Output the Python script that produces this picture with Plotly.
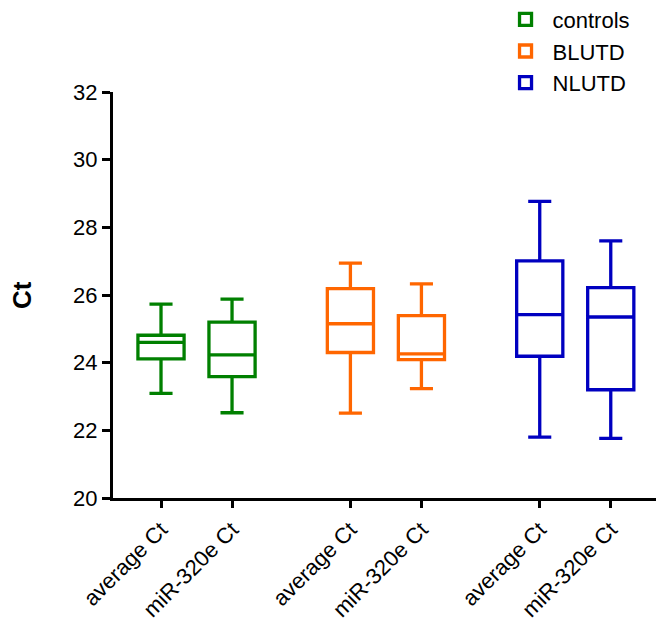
import plotly.graph_objects as go

groups = ["controls", "BLUTD", "NLUTD"]
colors = ["#008000", "#FF6600", "#0000C0"]
tick_labels = ["average Ct", "miR-320e Ct"]
positions = [[0, 1], [2.667, 3.667], [5.333, 6.333]]

lower_whisker = [[23.09, 22.52], [22.51, 23.23], [21.80, 21.76]]
q1_vals = [[24.11, 23.59], [24.30, 24.09], [24.19, 23.20]]
median_vals = [[24.60, 24.23], [25.15, 24.26], [25.42, 25.35]]
q3_vals = [[24.81, 25.20], [26.19, 25.39], [27.01, 26.22]]
upper_whisker = [[25.73, 25.88], [26.94, 26.33], [28.77, 27.60]]

fig = go.Figure()
for i, g in enumerate(groups):
    fig.add_trace(go.Box(
        name=g,
        x=positions[i],
        q1=q1_vals[i],
        median=median_vals[i],
        q3=q3_vals[i],
        lowerfence=lower_whisker[i],
        upperfence=upper_whisker[i],
        width=0.65,
        whiskerwidth=0.5,
        line=dict(color=colors[i], width=3.3),
        fillcolor="rgba(255,255,255,0)",
        boxpoints=False,
        hoverinfo="skip",
    ))

tickvals = [p for pair in positions for p in pair]
ticktext = tick_labels * 3

fig.update_layout(
    width=656, height=624,
    margin=dict(l=113, r=0, t=92, b=126, autoexpand=False),
    plot_bgcolor="white", paper_bgcolor="white",
    font=dict(family="Liberation Sans, Arial", size=22, color="black"),
    showlegend=True,
    legend=dict(x=0.71, y=1.23, xanchor="left", yanchor="top",
                font=dict(size=22), bgcolor="rgba(0,0,0,0)",
                tracegroupgap=4, itemwidth=44),
    xaxis=dict(range=[-0.676, 6.97], tickmode="array", tickvals=tickvals,
               ticktext=ticktext, tickangle=-45, showline=True, linecolor="black",
               linewidth=3, ticks="outside", ticklen=7, tickwidth=3,
               tickcolor="black", showgrid=False, zeroline=False,
               tickfont=dict(size=22)),
    yaxis=dict(range=[20, 32], tickmode="array", tickvals=[20, 22, 24, 26, 28, 30, 32],
               showline=True, linecolor="black", linewidth=3, ticks="outside",
               ticklen=8, tickwidth=3, tickcolor="black", showgrid=False,
               zeroline=False, tickfont=dict(size=22)),
    annotations=[dict(text="<b>Ct</b>", xref="paper", yref="paper",
                      x=-0.1676, y=0.5, xanchor="center", yanchor="middle",
                      textangle=-90, showarrow=False, font=dict(size=26))],
)

fig.write_html("out.html")
